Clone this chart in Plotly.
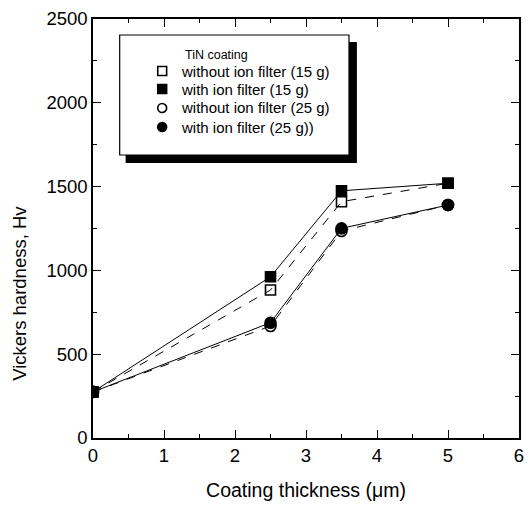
import plotly.graph_objects as go

# Coating thickness (um) and Vickers hardness (Hv)
thickness = [0, 2.5, 3.5, 5]
hv_no_filter_15g = [275, 883, 1410, 1520]
hv_filter_15g = [275, 962, 1475, 1520]
hv_no_filter_25g = [275, 668, 1235, 1390]
hv_filter_25g = [275, 688, 1251, 1390]

series = [
    ("without ion filter (15 g)", hv_no_filter_15g, "square-open", "dash"),
    ("with ion filter (15 g)", hv_filter_15g, "square", "solid"),
    ("without ion filter (25 g)", hv_no_filter_25g, "circle-open", "dash"),
    ("with ion filter (25 g))", hv_filter_25g, "circle", "solid"),
]

FONT = "Liberation Sans, Arial, sans-serif"
W, H = 528, 507
L, R, T, B = 93, 4, 19, 69
PW, PH = W - L - R, H - T - B


def px(x):
    return (x - L) / PW


def py(y):
    return (H - B - y) / PH


fig = go.Figure()

for name, vals, sym, dash in series:
    fig.add_trace(go.Scatter(
        x=thickness, y=vals, mode="lines+markers", name=name, showlegend=False,
        line=dict(color="black", width=1, dash=dash),
        marker=dict(symbol=sym, size=10 if "square" in sym else 11,
                    color="black", line=dict(color="black", width=1.6)),
    ))

axis_common = dict(
    showline=True, linecolor="black", linewidth=1.5, mirror="ticks",
    ticks="inside", ticklen=8, tickwidth=1.3, tickcolor="black",
    showgrid=False, zeroline=False,
    tickfont=dict(family=FONT, size=18.5, color="black"),
)

fig.update_xaxes(
    range=[0, 6], tick0=0, dtick=1,
    minor=dict(ticks="inside", dtick=0.5, ticklen=4, tickcolor="black", tickwidth=1.2),
    title=dict(text="Coating thickness (\u03bcm)", font=dict(family=FONT, size=19.5, color="black"),
               standoff=18),
    **axis_common,
)
fig.update_yaxes(
    range=[0, 2500], tick0=0, dtick=500,
    minor=dict(ticks="inside", dtick=250, ticklen=4, tickcolor="black", tickwidth=1.2),
    **axis_common,
)

# y-axis title placed close to the page edge
fig.add_annotation(xref="paper", yref="paper", x=px(18), y=py(293),
                   text="Vickers hardness, Hv", textangle=-90, showarrow=False,
                   xanchor="center", yanchor="middle",
                   font=dict(family=FONT, size=18.5, color="black"))

# legend frame with a heavy drop shadow
fig.add_shape(type="rect", xref="paper", yref="paper", layer="above",
              x0=px(126), x1=px(360), y0=py(163), y1=py(42),
              fillcolor="black", line=dict(width=0))
fig.add_shape(type="rect", xref="paper", yref="paper", layer="above",
              x0=px(120), x1=px(352), y0=py(155), y1=py(35),
              fillcolor="white", line=dict(color="black", width=1.2))
fig.add_annotation(xref="paper", yref="paper", x=px(184), y=py(55),
                   text="TiN coating", showarrow=False, xanchor="left", yanchor="middle",
                   font=dict(family=FONT, size=12.5, color="black"))

# legend rows: swatch + label
row_y = [71, 89, 108, 127]
for (name, vals, sym, dash), ry in zip(series, row_y):
    filled = not sym.endswith("open")
    kind = "rect" if sym.startswith("square") else "circle"
    r = 4.5
    fig.add_shape(type=kind, xref="paper", yref="paper", layer="above",
                  x0=px(163 - r), x1=px(163 + r), y0=py(ry + r), y1=py(ry - r),
                  fillcolor="black" if filled else "white",
                  line=dict(color="black", width=1.6))
    fig.add_annotation(xref="paper", yref="paper", x=px(180), y=py(ry),
                       text=name, showarrow=False, xanchor="left", yanchor="middle",
                       font=dict(family=FONT, size=15, color="black"))

fig.update_layout(
    width=W, height=H,
    margin=dict(l=L, r=R, t=T, b=B),
    paper_bgcolor="white", plot_bgcolor="white",
    showlegend=False,
)

fig.write_html("out.html")
